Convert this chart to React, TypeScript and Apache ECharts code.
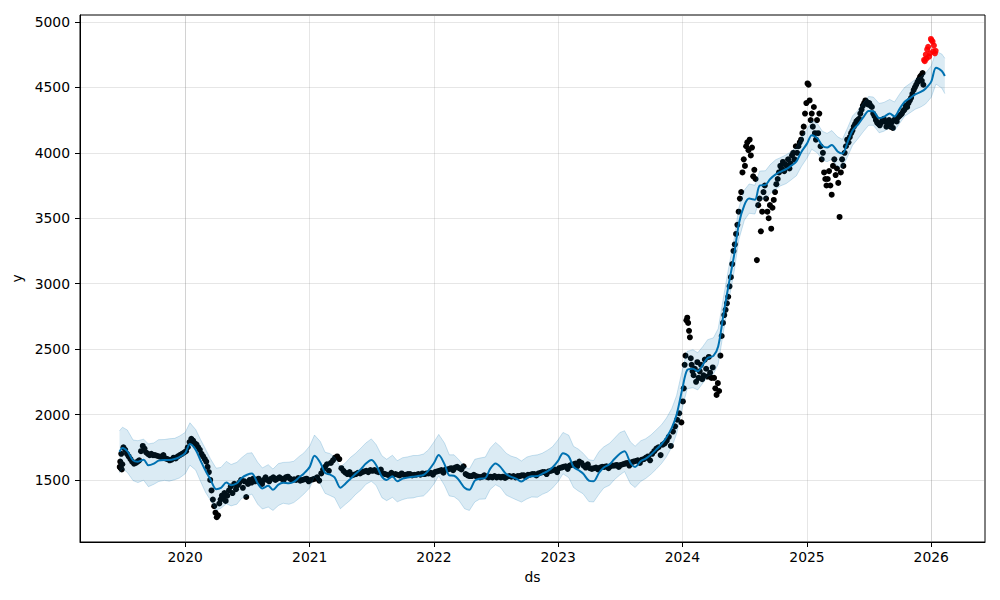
import React, { useEffect, useRef } from 'react';
import * as echarts from 'echarts';

// ---------- Forecast (yhat) : first day, then 1st & 15th of each month, then last day ----------
const fcStart = '2019-06-22';
const fcEnd = '2026-02-10';
const fcYhat: number[] = [
  1716,
  // 2019 Jul..Dec
  1745, 1720, 1650, 1640, 1655, 1612, 1625, 1648, 1653, 1653, 1660, 1675,
  // 2020
  1705, 1775, 1730, 1650, 1570, 1505, 1430, 1440, 1480, 1460, 1475, 1515,
  1540, 1550, 1475, 1435, 1455, 1425, 1465, 1478, 1475, 1485, 1520, 1550,
  // 2021
  1600, 1685, 1632, 1555, 1542, 1520, 1440, 1470, 1510, 1545, 1585, 1625,
  1652, 1615, 1525, 1500, 1528, 1490, 1510, 1518, 1525, 1530, 1538, 1570,
  // 2022
  1630, 1690, 1620, 1535, 1532, 1500, 1440, 1425, 1495, 1510, 1515, 1585,
  1625, 1600, 1545, 1525, 1508, 1488, 1515, 1528, 1530, 1547, 1568, 1595,
  // 2023
  1648, 1705, 1680, 1600, 1576, 1550, 1495, 1490, 1555, 1596, 1620, 1660,
  1700, 1720, 1632, 1600, 1645, 1663, 1695, 1730, 1775, 1825, 1900, 2000,
  // 2024
  2200, 2340, 2350, 2330, 2380, 2432, 2448, 2520, 2770, 2980, 3220, 3460,
  3600, 3650, 3642, 3750, 3755, 3800, 3835, 3855, 3875, 3900, 3935, 4005,
  // 2025
  4070, 4135, 4110, 4055, 4040, 4060, 4010, 3995, 4085, 4170, 4220, 4270,
  4320, 4318, 4265, 4275, 4300, 4278, 4340, 4390, 4420, 4447, 4465, 4490,
  // 2026 Jan 1, Jan 15, Feb 1, Feb 10
  4544, 4650, 4625, 4587,
];
const fcLower: number[] = [
  1556,
  1587, 1558, 1495, 1480, 1498, 1449, 1467, 1488, 1497, 1491, 1502, 1515,
  1547, 1613, 1575, 1490, 1405, 1347, 1270, 1284, 1318, 1302, 1315, 1360,
  1377, 1392, 1315, 1278, 1293, 1267, 1305, 1322, 1314, 1327, 1360, 1393,
  1440, 1527, 1470, 1398, 1382, 1365, 1280, 1312, 1347, 1388, 1425, 1467,
  1490, 1459, 1365, 1342, 1367, 1333, 1350, 1360, 1363, 1373, 1378, 1412,
  1470, 1532, 1458, 1378, 1372, 1345, 1280, 1267, 1332, 1353, 1355, 1427,
  1463, 1444, 1385, 1367, 1347, 1331, 1355, 1370, 1368, 1390, 1408, 1437,
  1488, 1547, 1518, 1443, 1416, 1395, 1335, 1332, 1392, 1439, 1460, 1502,
  1538, 1564, 1472, 1442, 1490, 1511, 1545, 1580, 1627, 1677, 1753, 1854,
  2055, 2197, 2205, 2188, 2240, 2292, 2310, 2385, 2640, 2852, 3095, 3340,
  3485, 3538, 3532, 3640, 3647, 3690, 3723, 3747, 3765, 3792, 3825, 3893,
  3960, 4027, 3998, 3945, 3932, 3950, 3898, 3887, 3975, 4058, 4112, 4160,
  4210, 4210, 4153, 4165, 4192, 4168, 4228, 4280, 4308, 4333, 4350, 4372,
  4424, 4525, 4495, 4452,
];
const fcUpper: number[] = [
  1876,
  1903, 1882, 1805, 1800, 1812, 1775, 1783, 1808, 1809, 1815, 1818, 1835,
  1863, 1937, 1885, 1810, 1735, 1663, 1590, 1596, 1642, 1618, 1635, 1670,
  1703, 1708, 1635, 1592, 1617, 1583, 1625, 1634, 1636, 1643, 1680, 1707,
  1760, 1843, 1794, 1712, 1702, 1675, 1600, 1628, 1673, 1702, 1745, 1783,
  1814, 1771, 1685, 1658, 1689, 1647, 1670, 1676, 1687, 1687, 1698, 1728,
  1790, 1848, 1782, 1692, 1692, 1655, 1600, 1583, 1658, 1667, 1675, 1743,
  1787, 1756, 1705, 1683, 1669, 1645, 1675, 1686, 1692, 1704, 1728, 1753,
  1808, 1863, 1842, 1757, 1736, 1705, 1655, 1648, 1718, 1753, 1780, 1818,
  1862, 1876, 1792, 1758, 1800, 1815, 1845, 1880, 1923, 1973, 2047, 2146,
  2345, 2483, 2495, 2472, 2520, 2572, 2586, 2655, 2900, 3108, 3345, 3580,
  3715, 3762, 3752, 3860, 3863, 3910, 3947, 3963, 3985, 4008, 4045, 4117,
  4180, 4243, 4222, 4165, 4148, 4170, 4122, 4103, 4195, 4282, 4328, 4380,
  4430, 4426, 4377, 4385, 4408, 4388, 4452, 4500, 4532, 4561, 4580, 4608,
  4664, 4775, 4755, 4722,
];

// ---------- Observed points (black): one row per calendar month, Jun 2019 .. Dec 2025 ----------
const obsFirstDay = '2019-06-22';
const obsLastDay = '2025-12-10';
const obsValues: number[][] = [
  [1600, 1640, 1590, 1700, 1580, 1620], // 2019-06
  [1750, 1730, 1700, 1680, 1660, 1640],
  [1625, 1630, 1640, 1650, 1720, 1760],
  [1740, 1710, 1700, 1690, 1700, 1690],
  [1690, 1685, 1680, 1675, 1690],
  [1665, 1660, 1650, 1655, 1670],
  [1665, 1680, 1690, 1700, 1710],
  [1720, 1750, 1790, 1815, 1800, 1780], // 2020-01
  [1770, 1750, 1730, 1700, 1680, 1660],
  [1640, 1600, 1560, 1500, 1420, 1350, 1300, 1250],
  [1215, 1230, 1320, 1350, 1380, 1360, 1400, 1340],
  [1380, 1420, 1450, 1400, 1470, 1430],
  [1460, 1480, 1500, 1440, 1490, 1370],
  [1470, 1500, 1480, 1510, 1490, 1500],
  [1510, 1490, 1470, 1500, 1520, 1500],
  [1490, 1510, 1520, 1500, 1510],
  [1520, 1510, 1500, 1520, 1525],
  [1510, 1500, 1505, 1500, 1515],
  [1495, 1500, 1505, 1510, 1490],
  [1500, 1505, 1510, 1520, 1495], // 2021-01
  [1550, 1580, 1600, 1620, 1570],
  [1630, 1650, 1670, 1680, 1660],
  [1590, 1570, 1555, 1545, 1560],
  [1535, 1540, 1545, 1555, 1550],
  [1560, 1565, 1570, 1560, 1575],
  [1570, 1575, 1565, 1560, 1580],
  [1550, 1545, 1540, 1535, 1555],
  [1540, 1545, 1540, 1535, 1550],
  [1540, 1540, 1545, 1545, 1535],
  [1540, 1540, 1545, 1540, 1550],
  [1545, 1550, 1550, 1555, 1540],
  [1560, 1565, 1570, 1575, 1555], // 2022-01
  [1580, 1580, 1585, 1590, 1575],
  [1595, 1600, 1590, 1580, 1605],
  [1545, 1535, 1530, 1530, 1540],
  [1530, 1525, 1520, 1525, 1535],
  [1525, 1520, 1525, 1520, 1530],
  [1520, 1525, 1520, 1525, 1515],
  [1525, 1530, 1525, 1530, 1520],
  [1530, 1530, 1535, 1535, 1525],
  [1540, 1540, 1545, 1545, 1535],
  [1550, 1555, 1560, 1560, 1545],
  [1565, 1570, 1575, 1580, 1560],
  [1590, 1595, 1600, 1605, 1585], // 2023-01
  [1610, 1615, 1620, 1625, 1605],
  [1640, 1630, 1610, 1595, 1620],
  [1590, 1585, 1590, 1595, 1580],
  [1595, 1600, 1600, 1605, 1590],
  [1605, 1610, 1610, 1615, 1600],
  [1615, 1620, 1625, 1630, 1610],
  [1635, 1640, 1645, 1650, 1630],
  [1655, 1660, 1670, 1680, 1650],
  [1700, 1720, 1740, 1750, 1690],
  [1770, 1780, 1800, 1830, 1760],
  [1870, 1910, 1960, 2010, 1940],
  [2100, 2200, 2380, 2450, 2720, 2740, 2700, 2640, 2590, 2430, 2380, 2330], // 2024-01
  [2300, 2350, 2250, 2400, 2280, 2330, 2380, 2270],
  [2300, 2420, 2350, 2290, 2440, 2320, 2280, 2360],
  [2280, 2200, 2150, 2240, 2180, 2450, 2600, 2700],
  [2760, 2800, 2850, 2900, 2980, 3050, 3150, 3250],
  [3300, 3380, 3450, 3550, 3650, 3700, 3850, 3950],
  [3900, 4050, 4080, 4020, 4100, 3980, 4040, 3820, 3870],
  [3800, 3180, 3600, 3650, 3400, 3550, 3700, 3750],
  [3650, 3550, 3500, 3600, 3420, 3580, 3640, 3700],
  [3760, 3800, 3850, 3900, 3880, 3930, 3860, 3910],
  [3900, 3950, 3880, 3920, 3980, 4000, 3950, 4050],
  [4000, 4050, 4080, 4100, 4150, 4200, 4300, 4380],
  [4530, 4520, 4400, 4250, 4300, 4200, 4350, 4150, 4100, 4250], // 2025-01
  [4150, 4300, 4050, 3950, 4000, 3850, 3800, 3750],
  [3800, 3860, 3750, 3680, 3900, 3950, 3830, 3880],
  [3770, 3510, 3850, 3950, 3900, 4000, 4050, 4100],
  [4080, 4120, 4150, 4170, 4200, 4220, 4240, 4250],
  [4260, 4300, 4330, 4360, 4380, 4400, 4390, 4370],
  [4380, 4360, 4350, 4300, 4280, 4250, 4230, 4220],
  [4210, 4230, 4250, 4260, 4240, 4200, 4220, 4250],
  [4200, 4230, 4190, 4250, 4260, 4240, 4270, 4280],
  [4290, 4300, 4320, 4330, 4360, 4350, 4380, 4400],
  [4420, 4450, 4480, 4500, 4520, 4540, 4560, 4580],
  [4590, 4550, 4610, 4520], // 2025-12
];

// ---------- Test points (red) ----------
const testDates: string[] = [
  '2025-12-11', '2025-12-13', '2025-12-16', '2025-12-18', '2025-12-20',
  '2025-12-23', '2025-12-26', '2025-12-29', '2025-12-31', '2026-01-02',
  '2026-01-05', '2026-01-07', '2026-01-09', '2026-01-12', '2026-01-14',
];
const testValues: number[] = [
  4710, 4700, 4750, 4720, 4790, 4810, 4735, 4760, 4870, 4860,
  4850, 4775, 4820, 4760, 4780,
];

// ---------- Axes ----------
const xMinDate = '2019-02-26';
const xMaxDate = '2026-06-08';
const xTickYears: number[] = [2020, 2021, 2022, 2023, 2024, 2025, 2026];
const yMin = 1026;
const yMax = 5053;
const yTicks: number[] = [1500, 2000, 2500, 3000, 3500, 4000, 4500, 5000];
const xTitle = 'ds';
const yTitle = 'y';

const DAY = 86400000;

function utc(s: string): number {
  const [y, m, d] = s.split('-').map(Number);
  return Date.UTC(y, m - 1, d);
}

function buildFcDates(): number[] {
  const end = utc(fcEnd);
  const out = [utc(fcStart)];
  let y = 2019;
  let m = 6;
  for (;;) {
    const t1 = Date.UTC(y, m, 1);
    if (t1 >= end) break;
    out.push(t1);
    const t15 = Date.UTC(y, m, 15);
    if (t15 >= end) break;
    out.push(t15);
    m++;
    if (m > 11) {
      m = 0;
      y++;
    }
  }
  out.push(end);
  return out;
}

function buildObs(): [number, number][] {
  const first = utc(obsFirstDay);
  const last = utc(obsLastDay);
  const out: [number, number][] = [];
  let y = 2019;
  let m = 5;
  obsValues.forEach((row) => {
    const ms = Date.UTC(y, m, 1);
    const me = Date.UTC(m === 11 ? y + 1 : y, m === 11 ? 0 : m + 1, 1);
    const s = Math.max(ms, first);
    const e = Math.min(me, last);
    const n = row.length;
    row.forEach((v, k) => {
      out.push([s + ((k + 0.5) * (e - s)) / n, v]);
    });
    m++;
    if (m > 11) {
      m = 0;
      y++;
    }
  });
  return out;
}

const FONT = 'DejaVu Sans';

export default function App() {
  const ref = useRef<HTMLDivElement>(null);

  useEffect(() => {
    document.body.style.margin = '0';
    if (!ref.current) return;
    const chart = echarts.init(ref.current, undefined, { renderer: 'svg' });

    const dates = buildFcDates();
    const n = Math.min(dates.length, fcYhat.length, fcLower.length, fcUpper.length);
    const yhat: [number, number][] = [];
    const lower: [number, number][] = [];
    const diff: [number, number][] = [];
    for (let i = 0; i < n; i++) {
      yhat.push([dates[i], fcYhat[i]]);
      lower.push([dates[i], fcLower[i]]);
      diff.push([dates[i], fcUpper[i] - fcLower[i]]);
    }
    const obs = buildObs();
    const test = testDates.map((d, i) => [utc(d), testValues[i]]);
    const xTickVals = xTickYears.map((yr) => Date.UTC(yr, 0, 1));

    const bandColor = 'rgba(0,114,178,0.2)';

    chart.setOption({
      animation: false,
      useUTC: true,
      backgroundColor: '#ffffff',
      textStyle: { fontFamily: FONT },
      grid: {
        left: 80,
        right: 15,
        top: 15,
        bottom: 58,
        show: true,
        borderColor: '#000',
        borderWidth: 1,
        backgroundColor: 'transparent',
        containLabel: false,
      },
      xAxis: {
        type: 'time',
        min: utc(xMinDate),
        max: utc(xMaxDate),
        minInterval: 365 * DAY,
        maxInterval: 366 * DAY,
        splitNumber: 7,
        name: xTitle,
        nameLocation: 'middle',
        nameGap: 28,
        nameTextStyle: { color: '#000', fontSize: 13.9, fontFamily: FONT },
        axisLine: { show: true, onZero: false, lineStyle: { color: '#000', width: 1 } },
        axisTick: {
          show: true,
          length: 5,
          customValues: xTickVals,
          lineStyle: { color: '#000', width: 1 },
        },
        axisLabel: {
          color: '#000',
          fontSize: 13.9,
          fontFamily: FONT,
          margin: 8,
          hideOverlap: false,
          formatter: (v: number) => {
            const d = new Date(v);
            return d.getUTCMonth() === 0 && d.getUTCDate() === 1 ? String(d.getUTCFullYear()) : '';
          },
        },
        splitLine: { show: true, lineStyle: { color: 'rgba(128,128,128,0.2)', width: 1 } },
        minorTick: { show: false },
      },
      yAxis: {
        type: 'value',
        min: yMin,
        max: yMax,
        splitNumber: 8,
        name: yTitle,
        nameLocation: 'middle',
        nameGap: 52,
        nameRotate: 90,
        nameTextStyle: { color: '#000', fontSize: 13.9, fontFamily: FONT },
        axisLine: { show: true, lineStyle: { color: '#000', width: 1 } },
        axisTick: {
          show: true,
          length: 5,
          customValues: yTicks,
          lineStyle: { color: '#000', width: 1 },
        },
        axisLabel: {
          color: '#000',
          fontSize: 13.9,
          fontFamily: FONT,
          margin: 10,
          customValues: yTicks,
          formatter: (v: number) => String(v),
        },
        splitLine: { show: true, lineStyle: { color: 'rgba(128,128,128,0.2)', width: 1 } },
      },
      series: [
        {
          name: 'Observed',
          type: 'scatter',
          data: obs,
          symbol: 'circle',
          symbolSize: 6,
          itemStyle: { color: '#000000', opacity: 1 },
          silent: true,
          z: 2,
        },
        {
          name: 'Forecast',
          type: 'line',
          data: yhat,
          showSymbol: false,
          symbol: 'none',
          smooth: 0.3,
          lineStyle: { color: '#0072B2', width: 2 },
          silent: true,
          z: 3,
        },
        {
          name: 'lower',
          type: 'line',
          data: lower,
          stack: 'band',
          symbol: 'none',
          showSymbol: false,
          lineStyle: { color: bandColor, width: 1 },
          silent: true,
          z: 4,
        },
        {
          name: 'Uncertainty',
          type: 'line',
          data: diff,
          stack: 'band',
          symbol: 'none',
          showSymbol: false,
          lineStyle: { color: bandColor, width: 1 },
          areaStyle: { color: bandColor },
          silent: true,
          z: 4,
        },
        {
          name: 'Test',
          type: 'scatter',
          data: test,
          symbol: 'circle',
          symbolSize: 6,
          itemStyle: { color: '#ff0000', opacity: 0.9 },
          silent: true,
          z: 5,
        },
      ],
    });

    return () => {
      chart.dispose();
    };
  }, []);

  return <div ref={ref} style={{ width: 1000, height: 600 }} />;
}
